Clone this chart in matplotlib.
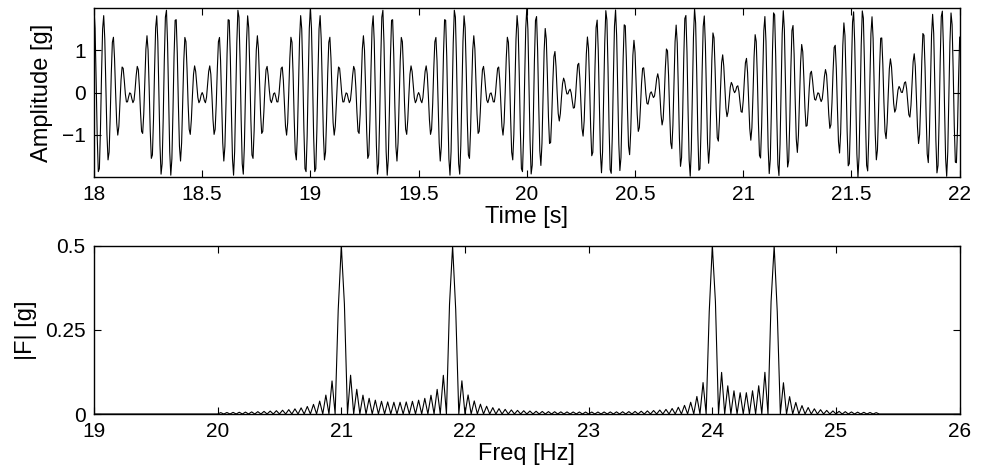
import numpy as np
import matplotlib.pyplot as plt

# two pairs of tones: first pair before the switch time, second pair after
pair_before_hz = [21.0, 24.0]
pair_after_hz = [21.9, 24.5]
tone_amp_g = 1.0

# record: 20 s of each pair, sampled at fs
fs = 200.0
t_start, t_switch, t_end = 0.0, 20.0, 40.0
band = (20.0, 25.35)   # range where the spectrum was evaluated

t_ticks = [18, 18.5, 19, 19.5, 20, 20.5, 21, 21.5, 22]
t_labels = ['18', '18.5', '19', '19.5', '20', '20.5', '21', '21.5', '22']
f_ticks = [19, 20, 21, 22, 23, 24, 25, 26]


def make_signal():
    t = t_start + np.arange(int((t_end - t_start) * fs)) / fs
    x = np.zeros_like(t)
    first = t < t_switch
    for f in pair_before_hz:
        x[first] += tone_amp_g * np.cos(2 * np.pi * f * t[first])
    for f in pair_after_hz:
        x[~first] += tone_amp_g * np.cos(2 * np.pi * f * t[~first])
    return t, x


def make_spectrum(x):
    n = len(x)
    X = np.fft.rfft(x)
    f = np.fft.rfftfreq(n, 1 / fs)
    mag = 2 * np.abs(X) / n
    mag[(f < band[0]) | (f > band[1])] = 0
    keep = (f >= 19) & (f <= 26)
    return f[keep], mag[keep]


def style(ax):
    ax.tick_params(direction='in', top=True, right=True, length=5,
                   width=0.8, labelsize=15, pad=6)
    for s in ax.spines.values():
        s.set_linewidth(1.0)


t, x = make_signal()
f, mag = make_spectrum(x)

plt.rcParams['font.family'] = ['Liberation Sans', 'DejaVu Sans']
fig = plt.figure(figsize=(9.86, 4.75), dpi=100)

ax1 = fig.add_axes([0.0953, 0.6274, 0.878, 0.356])
sel = (t >= 18) & (t <= 22.0001)
ax1.plot(t[sel], x[sel], color='black', lw=0.8)
ax1.set_xlim(18, 22)
ax1.set_ylim(x[sel].min(), x[sel].max())
ax1.set_xticks(t_ticks)
ax1.set_xticklabels(t_labels)
ax1.set_yticks([-1, 0, 1])
ax1.set_xlabel('Time [s]', fontsize=17, labelpad=1)
ax1.set_ylabel('Amplitude [g]', fontsize=17, labelpad=6)
style(ax1)

ax2 = fig.add_axes([0.0953, 0.1284, 0.878, 0.354])
ax2.plot(f, mag, color='black', lw=0.8)
ax2.set_xlim(19, 26)
ax2.set_ylim(0, 0.5)
ax2.set_xticks(f_ticks)
ax2.set_yticks([0, 0.25, 0.5])
ax2.set_yticklabels(['0', '0.25', '0.5'])
ax2.set_xlabel('Freq [Hz]', fontsize=17, labelpad=1)
ax2.set_ylabel('|F| [g]', fontsize=17, labelpad=6)
style(ax2)

fig.savefig('out.png', dpi=100)
